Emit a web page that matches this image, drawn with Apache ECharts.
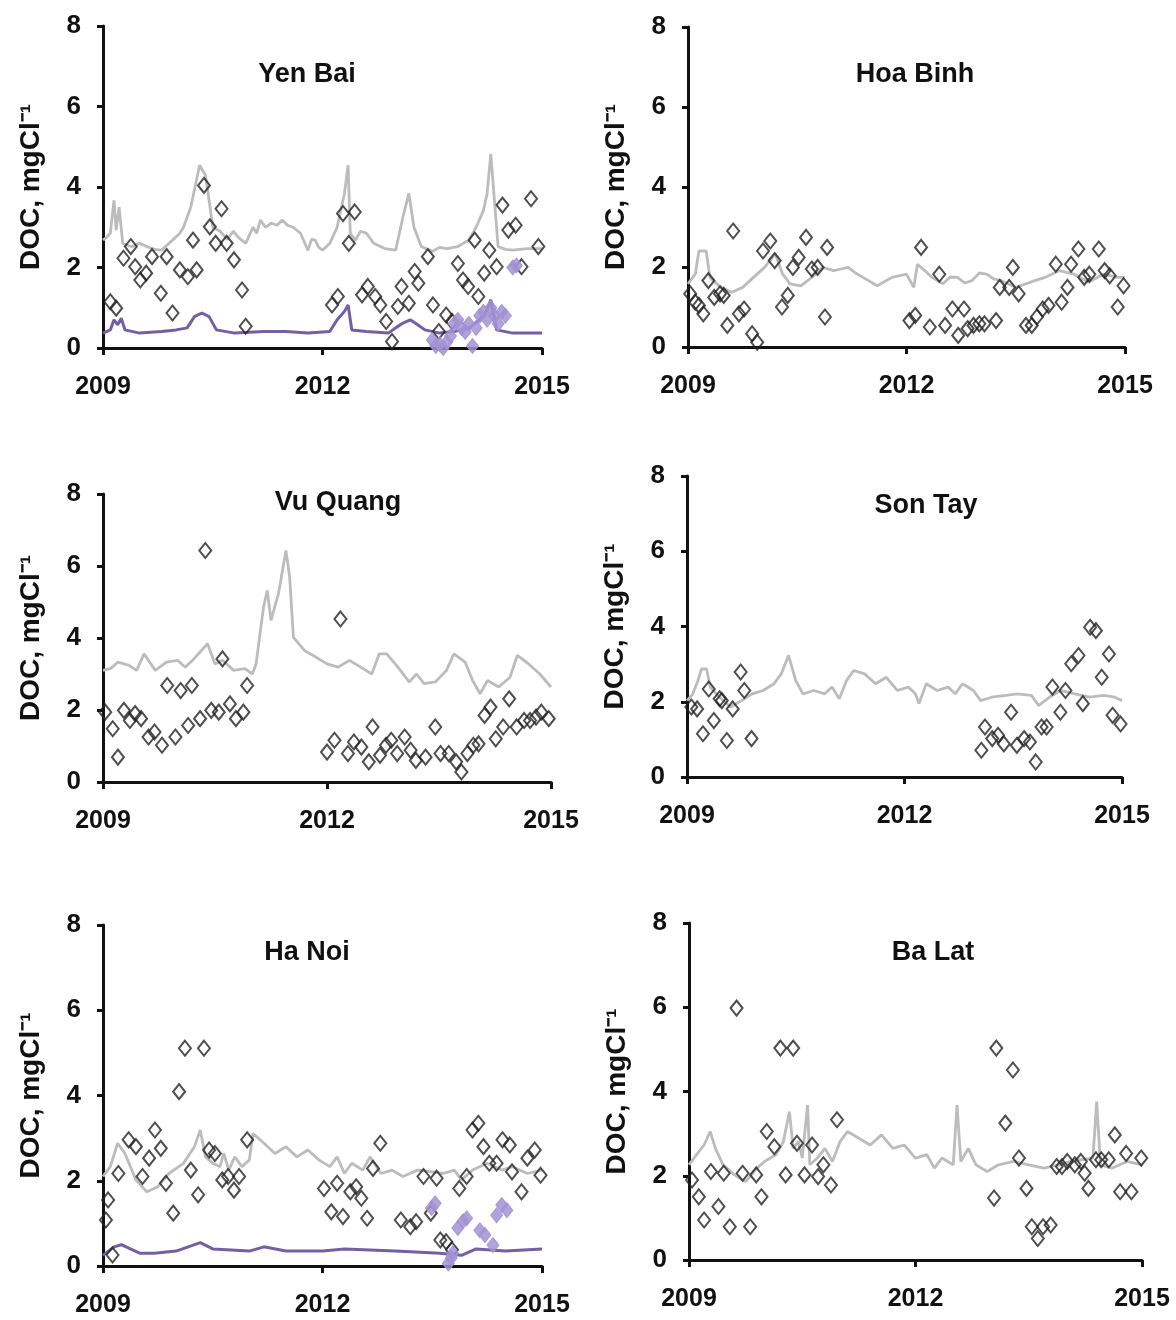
<!DOCTYPE html>
<html><head><meta charset="utf-8">
<script src="https://cdn.jsdelivr.net/npm/echarts/dist/echarts.min.js"></script>
<style>html,body{margin:0;padding:0;background:#fff}#c{width:1176px;height:1320px}</style>
</head><body><div id="c"></div><script>
// ---- DATA ----
const panelNames = ['Yen Bai','Hoa Binh','Vu Quang','Son Tay','Ha Noi','Ba Lat'];
const xTicks = [2009, 2012, 2015];
const yTicks = [0, 2, 4, 6, 8];
const yAxisTitle = 'DOC, mgCl\u207B\u00B9';

const yenBaiModel = [[2009.0,2.68],[2009.05,2.75],[2009.1,2.85],[2009.15,3.67],[2009.18,2.93],[2009.22,3.5],[2009.27,2.6],[2009.33,2.55],[2009.4,2.52],[2009.5,2.6],[2009.6,2.52],[2009.7,2.45],[2009.8,2.43],[2009.95,2.68],[2010.05,2.85],[2010.1,3.0],[2010.2,3.5],[2010.32,4.54],[2010.4,4.3],[2010.45,3.67],[2010.5,3.0],[2010.6,2.9],[2010.7,2.7],[2010.78,2.9],[2010.85,2.75],[2010.95,2.6],[2011.05,3.0],[2011.1,2.85],[2011.15,3.18],[2011.22,3.0],[2011.3,3.1],[2011.38,3.05],[2011.45,3.18],[2011.52,3.05],[2011.6,3.0],[2011.7,2.85],[2011.8,2.43],[2011.85,2.7],[2011.9,2.68],[2011.95,2.5],[2012.0,2.43],[2012.1,2.6],[2012.2,3.0],[2012.3,3.84],[2012.35,4.54],[2012.38,2.85],[2012.45,2.68],[2012.52,2.9],[2012.6,2.85],[2012.7,2.6],[2012.85,2.47],[2013.0,2.43],[2013.1,3.26],[2013.18,3.84],[2013.25,3.0],[2013.35,2.52],[2013.5,2.4],[2013.6,2.5],[2013.7,2.47],[2013.85,2.52],[2014.0,2.68],[2014.1,3.0],[2014.2,3.42],[2014.25,3.84],[2014.3,4.82],[2014.35,3.67],[2014.4,2.52],[2014.5,2.45],[2014.6,2.43],[2014.8,2.47],[2015.0,2.47]];
const yenBaiModel2 = [[2009.0,0.37],[2009.1,0.45],[2009.15,0.7],[2009.2,0.58],[2009.25,0.74],[2009.3,0.45],[2009.5,0.37],[2009.8,0.41],[2010.0,0.45],[2010.15,0.5],[2010.25,0.78],[2010.35,0.87],[2010.45,0.78],[2010.55,0.45],[2010.8,0.37],[2011.2,0.41],[2011.5,0.41],[2011.8,0.37],[2012.1,0.41],[2012.2,0.7],[2012.3,0.91],[2012.35,1.07],[2012.4,0.45],[2012.6,0.41],[2012.9,0.37],[2013.0,0.5],[2013.1,0.62],[2013.2,0.7],[2013.3,0.58],[2013.4,0.45],[2013.6,0.37],[2013.8,0.41],[2014.0,0.5],[2014.15,0.7],[2014.25,0.95],[2014.3,1.2],[2014.38,0.45],[2014.6,0.37],[2015.0,0.37]];
const yenBaiObs = [[2009.10,1.15],[2009.18,0.99],[2009.28,2.23],[2009.38,2.52],[2009.44,2.02],[2009.51,1.69],[2009.59,1.86],[2009.67,2.27],[2009.79,1.36],[2009.87,2.27],[2009.95,0.87],[2010.05,1.94],[2010.16,1.77],[2010.23,2.68],[2010.28,1.94],[2010.38,4.04],[2010.46,3.01],[2010.54,2.6],[2010.62,3.46],[2010.69,2.6],[2010.79,2.19],[2010.9,1.44],[2010.95,0.54],[2012.13,1.07],[2012.21,1.28],[2012.28,3.34],[2012.36,2.6],[2012.44,3.38],[2012.54,1.32],[2012.62,1.53],[2012.72,1.28],[2012.79,1.07],[2012.87,0.66],[2012.95,0.16],[2013.03,1.03],[2013.08,1.53],[2013.18,1.11],[2013.26,1.9],[2013.31,1.61],[2013.44,2.27],[2013.51,1.07],[2013.59,0.41],[2013.69,0.82],[2013.77,0.66],[2013.85,2.1],[2013.92,1.69],[2013.99,1.53],[2014.08,2.68],[2014.13,1.28],[2014.21,1.86],[2014.28,2.43],[2014.38,2.02],[2014.46,3.55],[2014.54,2.93],[2014.64,3.05],[2014.72,2.02],[2014.85,3.71],[2014.95,2.52]];
const yenBaiObs2 = [[2013.5,0.2],[2013.55,0.05],[2013.6,0.1],[2013.65,0.0],[2013.7,0.15],[2013.75,0.3],[2013.8,0.6],[2013.85,0.7],[2013.9,0.5],[2013.95,0.4],[2014.0,0.6],[2014.05,0.05],[2014.1,0.5],[2014.15,0.8],[2014.2,0.9],[2014.25,0.7],[2014.3,1.0],[2014.35,0.8],[2014.4,0.6],[2014.45,0.9],[2014.5,0.8],[2014.6,2.0],[2014.65,2.05]];

const hoaBinhModel = [[2009.0,1.58],[2009.1,1.82],[2009.15,2.4],[2009.25,2.4],[2009.3,1.74],[2009.45,1.49],[2009.6,1.37],[2009.75,1.49],[2009.9,1.74],[2010.05,1.99],[2010.2,2.32],[2010.3,1.82],[2010.4,1.58],[2010.55,1.53],[2010.7,1.74],[2010.85,1.99],[2011.0,1.91],[2011.1,1.95],[2011.2,1.99],[2011.3,1.85],[2011.4,1.74],[2011.6,1.53],[2011.8,1.74],[2012.0,1.82],[2012.1,1.49],[2012.15,2.07],[2012.25,1.91],[2012.35,1.74],[2012.5,1.58],[2012.6,1.75],[2012.7,1.74],[2012.8,1.6],[2012.9,1.66],[2013.0,1.85],[2013.1,1.82],[2013.2,1.7],[2013.3,1.66],[2013.5,1.49],[2013.7,1.62],[2013.9,1.74],[2014.1,1.91],[2014.3,1.82],[2014.5,1.62],[2014.7,1.82],[2014.9,1.74],[2015.0,1.74]];
const hoaBinhObs = [[2009.03,1.33],[2009.1,1.12],[2009.15,1.04],[2009.21,0.83],[2009.28,1.66],[2009.36,1.24],[2009.44,1.33],[2009.49,1.29],[2009.54,0.54],[2009.62,2.9],[2009.7,0.83],[2009.77,0.95],[2009.88,0.33],[2009.95,0.12],[2010.03,2.4],[2010.13,2.65],[2010.19,2.16],[2010.29,1.0],[2010.37,1.29],[2010.44,1.99],[2010.52,2.24],[2010.62,2.74],[2010.7,1.95],[2010.78,1.99],[2010.88,0.75],[2010.91,2.49],[2012.04,0.66],[2012.12,0.79],[2012.2,2.49],[2012.32,0.5],[2012.45,1.82],[2012.53,0.54],[2012.63,0.95],[2012.71,0.29],[2012.79,0.95],[2012.84,0.46],[2012.92,0.54],[2013.0,0.58],[2013.07,0.58],[2013.23,0.66],[2013.28,1.49],[2013.41,1.49],[2013.46,1.99],[2013.54,1.33],[2013.64,0.54],[2013.72,0.54],[2013.79,0.75],[2013.87,0.95],[2013.95,1.04],[2014.05,2.07],[2014.13,1.12],[2014.21,1.49],[2014.26,2.07],[2014.36,2.45],[2014.44,1.74],[2014.51,1.82],[2014.64,2.45],[2014.72,1.91],[2014.79,1.78],[2014.9,1.0],[2014.98,1.53]];

const vuQuangModel = [[2009.0,3.1],[2009.1,3.15],[2009.2,3.33],[2009.35,3.24],[2009.45,3.1],[2009.55,3.56],[2009.7,3.1],[2009.85,3.33],[2010.0,3.38],[2010.1,3.19],[2010.2,3.38],[2010.3,3.61],[2010.4,3.84],[2010.5,3.28],[2010.6,3.38],[2010.75,3.1],[2010.9,3.15],[2011.0,3.0],[2011.05,3.28],[2011.15,4.86],[2011.2,5.32],[2011.25,4.49],[2011.35,5.23],[2011.45,6.43],[2011.5,5.69],[2011.55,4.02],[2011.7,3.65],[2011.85,3.47],[2012.0,3.28],[2012.15,3.19],[2012.3,3.38],[2012.45,3.19],[2012.6,3.0],[2012.7,3.56],[2012.8,3.56],[2012.95,3.19],[2013.1,2.78],[2013.2,3.0],[2013.3,2.73],[2013.45,2.78],[2013.6,3.1],[2013.7,3.56],[2013.85,3.33],[2013.95,2.82],[2014.05,2.45],[2014.15,2.82],[2014.3,2.64],[2014.45,2.91],[2014.55,3.52],[2014.7,3.28],[2014.85,3.0],[2015.0,2.64]];
const vuQuangObs = [[2009.03,1.94],[2009.13,1.48],[2009.2,0.69],[2009.28,1.99],[2009.36,1.71],[2009.43,1.9],[2009.51,1.76],[2009.61,1.25],[2009.69,1.39],[2009.79,1.02],[2009.86,2.68],[2009.97,1.25],[2010.04,2.54],[2010.14,1.57],[2010.19,2.68],[2010.3,1.76],[2010.37,6.43],[2010.45,1.99],[2010.55,1.94],[2010.6,3.42],[2010.7,2.17],[2010.78,1.76],[2010.88,1.94],[2010.93,2.68],[2012.0,0.83],[2012.1,1.16],[2012.18,4.53],[2012.28,0.79],[2012.36,1.11],[2012.46,0.97],[2012.56,0.56],[2012.61,1.53],[2012.71,0.74],[2012.79,1.02],[2012.86,1.16],[2012.94,0.79],[2013.04,1.25],[2013.12,0.88],[2013.19,0.6],[2013.32,0.69],[2013.45,1.53],[2013.52,0.79],[2013.63,0.79],[2013.73,0.56],[2013.8,0.28],[2013.88,0.79],[2013.96,1.02],[2014.03,1.06],[2014.11,1.85],[2014.19,2.08],[2014.26,1.2],[2014.36,1.53],[2014.44,2.31],[2014.54,1.53],[2014.64,1.71],[2014.72,1.71],[2014.8,1.8],[2014.87,1.94],[2014.97,1.76]];

const sonTayModel = [[2009.0,2.03],[2009.08,2.21],[2009.15,2.56],[2009.2,2.87],[2009.27,2.87],[2009.32,2.39],[2009.45,2.12],[2009.6,1.86],[2009.75,2.03],[2009.9,2.21],[2010.05,2.3],[2010.2,2.48],[2010.3,2.74],[2010.4,3.23],[2010.5,2.56],[2010.6,2.21],[2010.75,2.3],[2010.9,2.21],[2011.0,2.39],[2011.1,2.08],[2011.2,2.56],[2011.3,2.83],[2011.45,2.74],[2011.6,2.48],[2011.75,2.65],[2011.9,2.3],[2012.05,2.39],[2012.15,2.21],[2012.2,1.95],[2012.3,2.48],[2012.45,2.3],[2012.6,2.39],[2012.7,2.21],[2012.8,2.48],[2012.95,2.3],[2013.05,2.03],[2013.2,2.12],[2013.4,2.17],[2013.55,2.21],[2013.75,2.17],[2013.85,1.9],[2014.0,2.12],[2014.15,2.3],[2014.35,2.21],[2014.55,2.12],[2014.75,2.17],[2014.9,2.12],[2015.0,2.03]];
const sonTayObs = [[2009.06,1.86],[2009.14,1.81],[2009.22,1.15],[2009.3,2.34],[2009.37,1.5],[2009.45,2.08],[2009.48,2.03],[2009.55,0.97],[2009.63,1.81],[2009.74,2.79],[2009.79,2.3],[2009.89,1.02],[2013.06,0.71],[2013.11,1.33],[2013.21,1.02],[2013.29,1.11],[2013.37,0.88],[2013.47,1.72],[2013.55,0.84],[2013.65,1.02],[2013.73,0.93],[2013.81,0.4],[2013.89,1.33],[2013.96,1.33],[2014.04,2.39],[2014.15,1.72],[2014.22,2.3],[2014.3,3.01],[2014.4,3.23],[2014.46,1.95],[2014.56,3.98],[2014.64,3.89],[2014.72,2.65],[2014.82,3.27],[2014.87,1.64],[2014.98,1.41]];

const haNoiModel = [[2009.0,2.1],[2009.1,2.33],[2009.2,2.88],[2009.3,2.64],[2009.45,2.02],[2009.6,1.74],[2009.75,1.86],[2009.9,2.17],[2010.1,2.41],[2010.25,2.8],[2010.33,3.19],[2010.4,2.56],[2010.5,2.41],[2010.6,2.33],[2010.65,2.64],[2010.72,2.25],[2010.8,2.56],[2010.9,2.33],[2011.0,2.49],[2011.05,3.11],[2011.2,2.88],[2011.35,2.64],[2011.5,2.8],[2011.65,2.56],[2011.8,2.72],[2011.95,2.49],[2012.1,2.33],[2012.2,2.56],[2012.3,2.17],[2012.4,2.41],[2012.55,2.25],[2012.65,2.56],[2012.8,2.17],[2012.95,2.25],[2013.1,2.1],[2013.3,2.25],[2013.5,2.21],[2013.65,2.17],[2013.8,2.25],[2013.9,2.02],[2014.05,2.25],[2014.25,2.41],[2014.45,2.25],[2014.6,2.33],[2014.8,2.17],[2015.0,2.25]];
const haNoiModel2 = [[2009.0,0.25],[2009.15,0.45],[2009.25,0.5],[2009.5,0.3],[2009.7,0.3],[2010.0,0.35],[2010.33,0.55],[2010.5,0.4],[2011.0,0.35],[2011.2,0.45],[2011.5,0.35],[2012.0,0.35],[2012.3,0.4],[2013.0,0.35],[2013.6,0.3],[2013.9,0.25],[2014.1,0.4],[2014.5,0.35],[2015.0,0.4]];
const haNoiObs = [[2009.04,1.08],[2009.07,1.55],[2009.13,0.26],[2009.21,2.17],[2009.35,2.96],[2009.45,2.8],[2009.54,2.1],[2009.63,2.53],[2009.71,3.19],[2009.79,2.76],[2009.86,1.94],[2009.96,1.24],[2010.04,4.09],[2010.12,5.11],[2010.2,2.25],[2010.3,1.67],[2010.38,5.11],[2010.45,2.72],[2010.53,2.64],[2010.63,2.02],[2010.71,2.1],[2010.79,1.78],[2010.86,2.1],[2010.97,2.96],[2012.02,1.82],[2012.12,1.27],[2012.2,1.94],[2012.28,1.16],[2012.38,1.74],[2012.46,1.86],[2012.53,1.59],[2012.61,1.12],[2012.69,2.29],[2012.79,2.88],[2013.07,1.08],[2013.2,0.92],[2013.28,1.04],[2013.38,2.1],[2013.48,1.24],[2013.56,2.06],[2013.61,0.61],[2013.69,0.57],[2013.77,0.38],[2013.87,1.82],[2013.97,2.1],[2014.05,3.19],[2014.13,3.35],[2014.2,2.8],[2014.28,2.41],[2014.38,2.41],[2014.46,2.96],[2014.56,2.84],[2014.59,2.21],[2014.72,1.74],[2014.8,2.53],[2014.9,2.72],[2014.98,2.13]];
const haNoiObs2 = [[2013.49,1.36],[2013.54,1.47],[2013.72,0.06],[2013.76,0.19],[2013.78,0.3],[2013.85,0.89],[2013.92,1.05],[2013.97,1.12],[2014.15,0.84],[2014.22,0.73],[2014.33,0.49],[2014.38,1.19],[2014.45,1.43],[2014.52,1.31]];

const baLatModel = [[2009.0,2.26],[2009.1,2.5],[2009.2,2.73],[2009.28,3.05],[2009.35,2.65],[2009.45,2.26],[2009.6,2.02],[2009.75,1.86],[2009.9,2.18],[2010.0,2.34],[2010.15,2.5],[2010.25,2.81],[2010.33,3.52],[2010.38,2.65],[2010.45,2.81],[2010.5,2.42],[2010.57,3.68],[2010.6,2.26],[2010.7,2.42],[2010.8,2.65],[2010.9,2.34],[2011.0,2.81],[2011.1,3.05],[2011.25,2.89],[2011.4,2.73],[2011.55,2.97],[2011.7,2.65],[2011.85,2.73],[2012.0,2.42],[2012.15,2.5],[2012.25,2.18],[2012.35,2.42],[2012.5,2.26],[2012.55,3.68],[2012.6,2.34],[2012.7,2.65],[2012.8,2.26],[2012.95,2.1],[2013.1,2.26],[2013.3,2.34],[2013.5,2.26],[2013.7,2.18],[2013.9,2.26],[2014.05,2.34],[2014.2,2.38],[2014.35,2.42],[2014.4,3.76],[2014.45,2.26],[2014.6,2.18],[2014.8,2.34],[2015.0,2.26]];
const baLatObs = [[2009.04,1.9],[2009.13,1.5],[2009.2,0.95],[2009.29,2.1],[2009.39,1.27],[2009.46,2.06],[2009.54,0.79],[2009.63,5.98],[2009.71,2.06],[2009.81,0.79],[2009.89,2.02],[2009.96,1.5],[2010.03,3.05],[2010.13,2.69],[2010.21,5.03],[2010.28,2.02],[2010.38,5.03],[2010.43,2.77],[2010.53,2.02],[2010.63,2.73],[2010.71,1.98],[2010.78,2.26],[2010.88,1.78],[2010.96,3.33],[2013.04,1.47],[2013.07,5.03],[2013.19,3.25],[2013.29,4.51],[2013.37,2.42],[2013.47,1.7],[2013.54,0.79],[2013.62,0.51],[2013.69,0.79],[2013.79,0.83],[2013.87,2.22],[2013.94,2.22],[2014.01,2.34],[2014.11,2.26],[2014.19,2.34],[2014.24,2.06],[2014.29,1.7],[2014.39,2.38],[2014.46,2.38],[2014.56,2.38],[2014.64,2.97],[2014.71,1.62],[2014.79,2.53],[2014.86,1.62],[2014.99,2.42]];

// ---- LAYOUT ----
const layout = [
  {l:103,t:26,w:439,h:322, tx:302, ty:56},
  {l:688,t:27,w:437,h:320, tx:910, ty:56},
  {l:103,t:494,w:448,h:288, tx:333, ty:484},
  {l:687,t:476,w:435,h:301, tx:921, ty:487},
  {l:103,t:925,w:439,h:341, tx:302, ty:934},
  {l:689,t:923,w:453,h:337, tx:928, ty:934}
];
const panelData = [
  {grey:yenBaiModel, purple:yenBaiModel2, obs:yenBaiObs, obs2:yenBaiObs2},
  {grey:hoaBinhModel, obs:hoaBinhObs},
  {grey:vuQuangModel, obs:vuQuangObs},
  {grey:sonTayModel, obs:sonTayObs},
  {grey:haNoiModel, purple:haNoiModel2, obs:haNoiObs, obs2:haNoiObs2},
  {grey:baLatModel, obs:baLatObs}
];

const FONT = '"Liberation Sans", Arial, sans-serif';
const chart = echarts.init(document.getElementById('c'), null, {renderer:'canvas'});
const grid=[], xAxis=[], yAxis=[], series=[], title=[];
layout.forEach((p,i)=>{
  grid.push({left:p.l, top:p.t, width:p.w, height:p.h, containLabel:false});
  title.push({text:panelNames[i], left:p.tx, top:p.ty, textAlign:'center',
    textStyle:{fontFamily:FONT, fontWeight:'bold', fontSize:27, color:'#111'}});
  xAxis.push({type:'value', gridIndex:i, min:xTicks[0], max:xTicks[xTicks.length-1], interval:xTicks[1]-xTicks[0],
    axisLine:{lineStyle:{color:'#111', width:3}}, axisTick:{show:true, length:7, inside:false, lineStyle:{color:'#111', width:3}},
    splitLine:{show:false},
    axisLabel:{fontFamily:FONT, fontWeight:'bold', fontSize:25, color:'#111', margin:27, formatter:v=>String(v)}});
  yAxis.push({type:'value', gridIndex:i, min:yTicks[0], max:yTicks[yTicks.length-1], interval:yTicks[1]-yTicks[0],
    name:yAxisTitle, nameLocation:'middle', nameRotate:90, nameGap:58,
    nameTextStyle:{fontFamily:FONT, fontWeight:'bold', fontSize:28, color:'#111'},
    axisLine:{show:true, lineStyle:{color:'#111', width:3}}, axisTick:{show:true, length:6, lineStyle:{color:'#111', width:3}},
    splitLine:{show:false},
    axisLabel:{fontFamily:FONT, fontWeight:'bold', fontSize:26, color:'#111', margin:22}});
  const d = panelData[i];
  series.push({type:'line', xAxisIndex:i, yAxisIndex:i, data:d.grey, showSymbol:false, symbol:'none',
    lineStyle:{color:'#bcbcbc', width:2.8}, z:2, silent:true});
  if (d.purple) series.push({type:'line', xAxisIndex:i, yAxisIndex:i, data:d.purple, symbol:'none',
    lineStyle:{color:'#735fa3', width:3}, z:3, silent:true});
  series.push({type:'scatter', xAxisIndex:i, yAxisIndex:i, data:d.obs, symbol:'diamond', symbolSize:[12,15],
    itemStyle:{color:'rgba(255,255,255,0)', borderColor:'#222', borderWidth:2}, z:4, silent:true});
  if (d.obs2) series.push({type:'scatter', xAxisIndex:i, yAxisIndex:i, data:d.obs2, symbol:'diamond', symbolSize:[12,15],
    itemStyle:{color:'#a292d4', borderColor:'#a292d4', borderWidth:1, opacity:0.85}, z:5, silent:true});
});
chart.setOption({animation:false, backgroundColor:'#fff', title, grid, xAxis, yAxis, series});
</script></body></html>
